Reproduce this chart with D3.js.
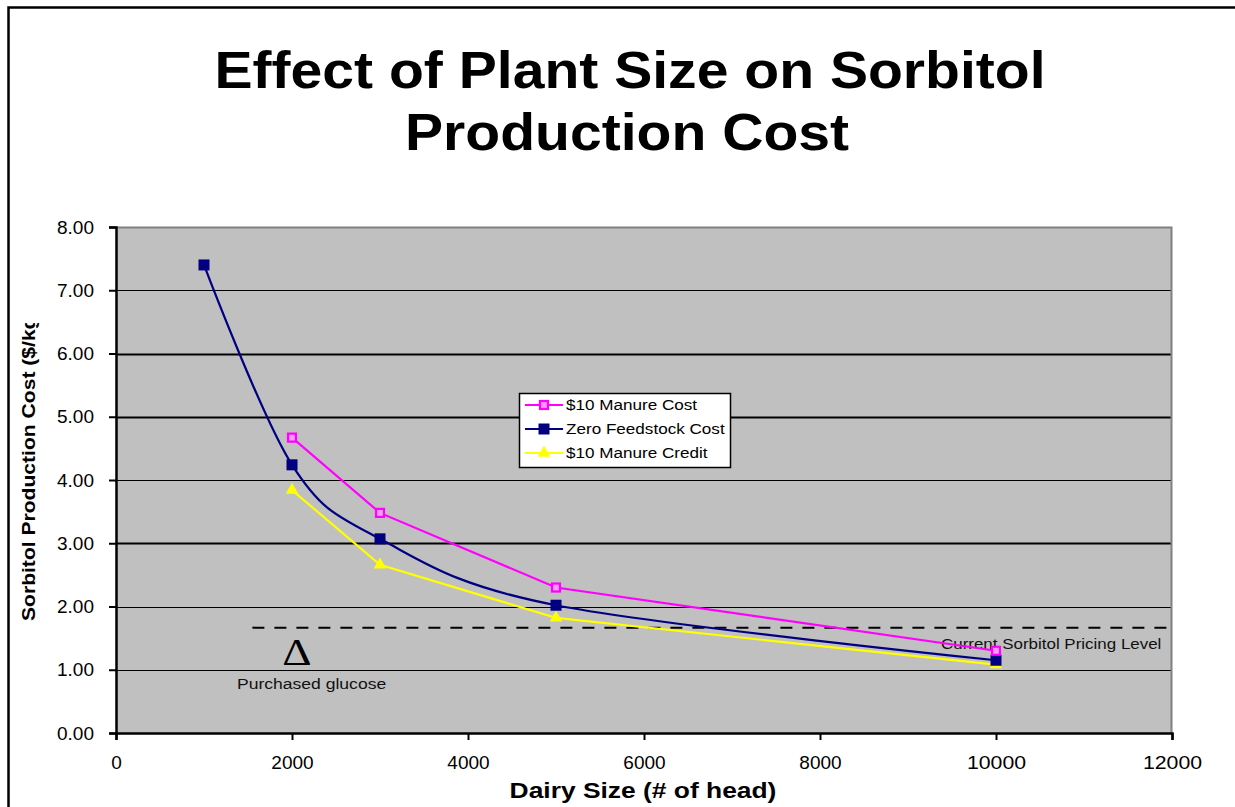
<!DOCTYPE html>
<html>
<head>
<meta charset="utf-8">
<script src="https://cdn.jsdelivr.net/npm/d3@7"></script>
<style>
  html, body { margin: 0; padding: 0; background: #fff; }
  svg { display: block; font-family: Arial, "Liberation Sans", sans-serif; }
</style>
</head>
<body>
<svg id="chart" width="1235" height="807"></svg>
<script>
// Dairy herd sizes and production cost ($/kg) per scenario
const manureCostSizes = [2000, 3000, 5000, 10000];
const manureCostValues = [4.67, 3.48, 2.30, 1.30];
const zeroFeedSizes = [1000, 2000, 3000, 5000, 10000];
const zeroFeedValues = [7.40, 4.24, 3.07, 2.02, 1.15];
const manureCreditSizes = [2000, 3000, 5000, 10000];
const manureCreditValues = [3.84, 2.66, 1.82, 1.08];

const seriesNames = ["$10 Manure Cost", "Zero Feedstock Cost", "$10 Manure Credit"];
const xTicks = [0, 2000, 4000, 6000, 8000, 10000, 12000];
const yTicks = [0, 1, 2, 3, 4, 5, 6, 7, 8];

// Current sorbitol price reference line
const pricingLevel = 1.665;
const pricingStart = 1550;

const svg = d3.select("#chart");
const W = 1235, H = 807;

// text drawn slightly wider than the font's natural width
function wideText(parent, x, y, sx, str) {
  return parent.append("text")
    .attr("transform", `translate(${x},${y}) scale(${sx},1)`)
    .text(str);
}

// outer chart frame
svg.append("rect").attr("x", 8.5).attr("y", 7.5).attr("width", W + 20).attr("height", H + 20)
  .attr("fill", "#fff").attr("stroke", "#000").attr("stroke-width", 2.5);

const plot = { left: 116, top: 227, right: 1172, bottom: 733 };
const x = d3.scaleLinear().domain([0, 12000]).range([plot.left, plot.right]);
const y = d3.scaleLinear().domain([0, 8]).range([plot.bottom, plot.top]);

// title
wideText(svg, 630, 88, 1.12, "Effect of Plant Size on Sorbitol")
  .attr("text-anchor", "middle").attr("font-weight", "bold").attr("font-size", 51);
wideText(svg, 627, 150, 1.12, "Production Cost")
  .attr("text-anchor", "middle").attr("font-weight", "bold").attr("font-size", 51);

// plot background
svg.append("rect").attr("x", plot.left).attr("y", plot.top)
  .attr("width", plot.right - plot.left).attr("height", plot.bottom - plot.top)
  .attr("fill", "#c0c0c0");

// horizontal gridlines
svg.append("g").selectAll("line").data(yTicks.filter(d => d > 0 && d < 8)).join("line")
  .attr("x1", plot.left).attr("x2", plot.right)
  .attr("y1", d => Math.round(y(d)) + 0.5).attr("y2", d => Math.round(y(d)) + 0.5)
  .attr("stroke", "#000").attr("stroke-width", d => [3, 5, 6].includes(d) ? 2 : 1.2);

// top and right plot border
svg.append("path")
  .attr("d", `M${plot.left},${plot.top + 0.5}H${plot.right - 0.5}V${plot.bottom}`)
  .attr("fill", "none").attr("stroke", "#808080").attr("stroke-width", 2);

// axes
const yAxis = d3.axisLeft(y).tickValues(yTicks).tickFormat(d3.format(".2f")).tickSizeOuter(0).tickSize(7).tickPadding(15);
const gy = svg.append("g").attr("transform", `translate(${plot.left},0)`).call(yAxis);
const xAxis = d3.axisBottom(x).tickValues(xTicks).tickFormat(d3.format("d")).tickSizeOuter(0).tickSize(7).tickPadding(16);
const gx = svg.append("g").attr("transform", `translate(0,${plot.bottom})`).call(xAxis);
[gx, gy].forEach(g => {
  g.select(".domain").attr("stroke", "#000").attr("stroke-width", 2.5);
  g.selectAll(".tick line").attr("stroke", "#000").attr("stroke-width", 2);
  g.selectAll(".tick text").attr("font-family", "Arial, 'Liberation Sans', sans-serif")
    .attr("font-size", 19).attr("fill", "#000");
});
gx.selectAll(".tick text").attr("transform", d => String(d).length > 4 ? "scale(1.12,1)" : null)
  .attr("x", 0);

// axis titles
wideText(svg, 643, 798, 1.2, "Dairy Size (# of head)")
  .attr("text-anchor", "middle").attr("font-weight", "bold").attr("font-size", 22);

svg.append("clipPath").attr("id", "ytitle-clip")
  .append("rect").attr("x", 0).attr("y", 323).attr("width", 60).attr("height", 400);
svg.append("g").attr("clip-path", "url(#ytitle-clip)")
  .append("text").attr("transform", "translate(35,621) rotate(-90) scale(1.11,1)")
  .attr("font-weight", "bold").attr("font-size", 19).text("Sorbitol Production Cost ($/kg)");

// pricing reference line
svg.append("line")
  .attr("x1", x(pricingStart)).attr("x2", x(12000))
  .attr("y1", y(pricingLevel)).attr("y2", y(pricingLevel))
  .attr("stroke", "#000").attr("stroke-width", 2).attr("stroke-dasharray", "12,10");

// annotations
wideText(svg, 297, 665, 1.2, "Δ").attr("text-anchor", "middle")
  .attr("font-family", "'Liberation Serif', 'DejaVu Serif', serif").attr("font-size", 38);
wideText(svg, 237, 689, 1.17, "Purchased glucose").attr("font-size", 15).attr("fill", "#111");
wideText(svg, 941, 649, 1.13, "Current Sorbitol Pricing Level").attr("font-size", 15).attr("fill", "#111");

// series
const series = [
  { name: seriesNames[0], sizes: manureCostSizes, values: manureCostValues, color: "#ff00ff", marker: "hollow", curve: d3.curveLinear },
  { name: seriesNames[1], sizes: zeroFeedSizes, values: zeroFeedValues, color: "#000080", marker: "square", curve: d3.curveCardinal.tension(0) },
  { name: seriesNames[2], sizes: manureCreditSizes, values: manureCreditValues, color: "#ffff00", marker: "triangle", curve: d3.curveLinear }
];

function drawMarker(g, s, cx, cy) {
  if (s.marker === "hollow") {
    g.append("rect").attr("x", cx - 4).attr("y", cy - 4).attr("width", 8).attr("height", 8)
      .attr("fill", "#ff99ff").attr("stroke", s.color).attr("stroke-width", 2.2);
  } else if (s.marker === "square") {
    g.append("rect").attr("x", cx - 5.5).attr("y", cy - 5.5).attr("width", 11).attr("height", 11)
      .attr("fill", s.color);
  } else {
    g.append("path").attr("d", d3.symbol(d3.symbolTriangle, 70)())
      .attr("transform", `translate(${cx},${cy})`).attr("fill", s.color);
  }
}

const draw = [series[2], series[1], series[0]];
draw.forEach(s => {
  const pts = s.sizes.map((v, i) => [x(v), y(s.values[i])]);
  svg.append("path").attr("d", d3.line().curve(s.curve)(pts))
    .attr("fill", "none").attr("stroke", s.color).attr("stroke-width", 2.2);
  const g = svg.append("g");
  pts.forEach(p => drawMarker(g, s, p[0], p[1]));
});

// legend
const lg = svg.append("g").attr("transform", "translate(519,393)");
lg.append("rect").attr("x", 0.5).attr("y", 0.5).attr("width", 211).attr("height", 74)
  .attr("fill", "#fff").attr("stroke", "#000").attr("stroke-width", 1.5);
series.forEach((s, i) => {
  const cy = 12 + i * 24;
  lg.append("line").attr("x1", 6).attr("x2", 44).attr("y1", cy).attr("y2", cy)
    .attr("stroke", s.color).attr("stroke-width", 2.2);
  drawMarker(lg, s, 25, cy);
  wideText(lg, 47, cy + 5, 1.14, s.name).attr("font-size", 15).attr("fill", "#000");
});
</script>
</body>
</html>
